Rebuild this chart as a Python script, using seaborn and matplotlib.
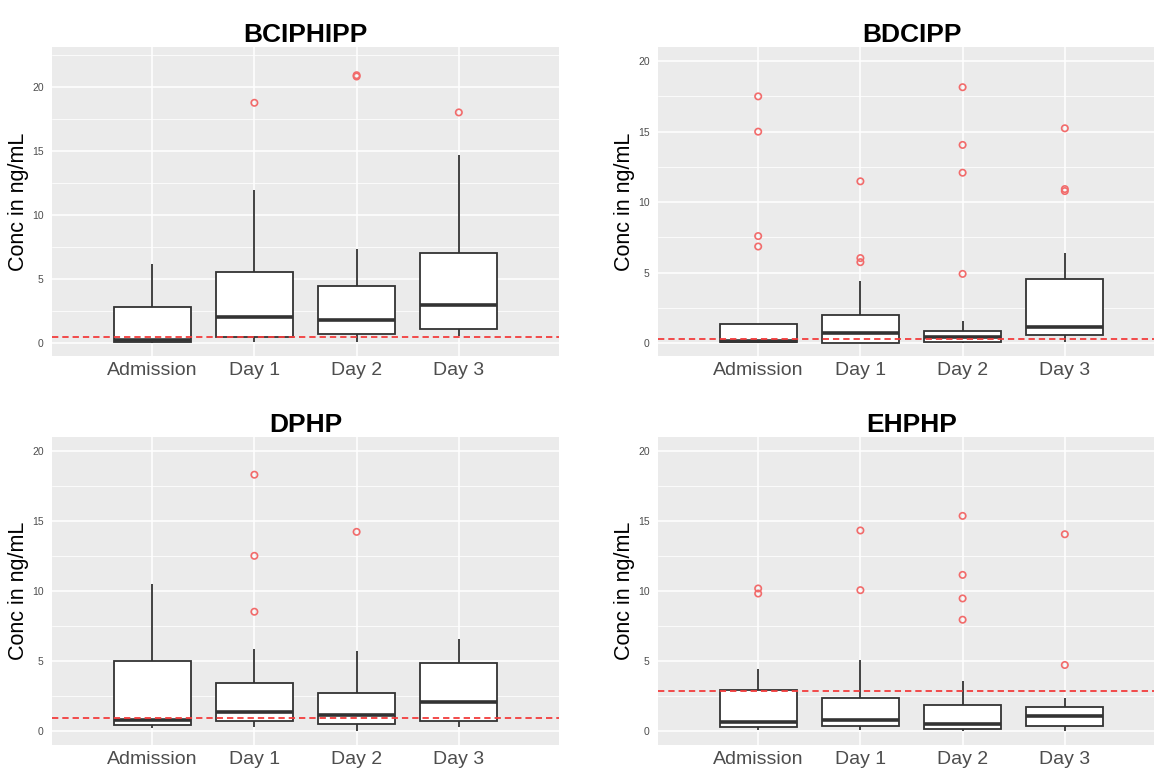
import numpy as np
import pandas as pd
import matplotlib.pyplot as plt
import seaborn as sns
from matplotlib.ticker import MultipleLocator

days = ['Admission', 'Day 1', 'Day 2', 'Day 3']
compounds = ['BCIPHIPP', 'BDCIPP', 'DPHP', 'EHPHP']

# box summaries per day: lower whisker, Q1, median, Q3, upper whisker (ng/mL)
bciphipp_box = [[0.03, 0.08, 0.25, 2.80, 6.20],
                [0.10, 0.50, 2.06, 5.57, 11.95],
                [0.10, 0.75, 1.80, 4.45, 7.32],
                [0.55, 1.09, 3.00, 7.06, 14.70]]
bdcipp_box = [[0.02, 0.07, 0.17, 1.34, 1.40],
              [0.02, 0.05, 0.71, 1.98, 4.41],
              [0.02, 0.12, 0.47, 0.85, 1.58],
              [0.08, 0.57, 1.16, 4.58, 6.42]]
dphp_box = [[0.21, 0.45, 0.83, 5.00, 10.52],
            [0.28, 0.73, 1.37, 3.44, 5.88],
            [0.05, 0.50, 1.16, 2.70, 5.71],
            [0.28, 0.73, 2.09, 4.86, 6.59]]
ehphp_box = [[0.10, 0.31, 0.64, 2.91, 4.44],
             [0.10, 0.35, 0.80, 2.36, 5.08],
             [0.05, 0.19, 0.52, 1.84, 3.57],
             [0.05, 0.40, 1.09, 1.75, 2.36]]

# outliers per day
bciphipp_out = [[], [18.75], [20.8, 20.9], [18.0]]
bdcipp_out = [[17.5, 15.0, 7.6, 6.86], [11.48, 6.04, 5.75],
              [18.15, 14.06, 12.09, 4.92], [15.24, 10.93, 10.79]]
dphp_out = [[], [18.31, 12.52, 8.53], [14.23], []]
ehphp_out = [[10.19, 9.83], [14.33, 10.07],
             [15.37, 11.16, 9.48, 7.96], [14.06, 4.73]]

# dashed reference level per compound
lod = [0.52, 0.33, 0.92, 2.86]

boxes = [bciphipp_box, bdcipp_box, dphp_box, ehphp_box]
outs = [bciphipp_out, bdcipp_out, dphp_out, ehphp_out]

sns.set_theme(style='darkgrid')
plt.rcParams['font.family'] = ['Liberation Sans', 'DejaVu Sans']

red = '#F26B6B'
W, H = 1154, 770
# panel rectangles in pixels: left, top, right, bottom
rects = [(52, 47, 559, 356), (658, 47, 1165, 356),
         (52, 437, 559, 745), (658, 437, 1165, 745)]
ylims = [(-0.99, 23.1), (-0.9, 21.0), (-0.98, 21.0), (-0.98, 21.0)]

fig = plt.figure(figsize=(W / 100, H / 100), dpi=100)

for i, name in enumerate(compounds):
    l, t, r, b = rects[i]
    ax = fig.add_axes([l / W, 1 - b / H, (r - l) / W, (b - t) / H])

    box_df = pd.DataFrame({'day': np.repeat(days, 5),
                           'conc': np.concatenate(boxes[i])})
    sns.boxplot(data=box_df, x='day', y='conc', order=days, ax=ax,
                whis=(0, 100), width=0.75, color='white', saturation=1,
                linecolor='#333333', linewidth=1.3, showcaps=False,
                showfliers=False, medianprops={'linewidth': 2.6})

    out_df = pd.DataFrame({
        'day': [d for d, vals in zip(days, outs[i]) for _ in vals],
        'conc': [v for vals in outs[i] for v in vals]})
    sns.stripplot(data=out_df, x='day', y='conc', order=days, ax=ax,
                  jitter=False, color=red, edgecolor=red, size=4.6,
                  linewidth=1.2, zorder=4)
    for coll in ax.collections:
        coll.set_facecolor('none')

    ax.axhline(lod[i], color='#F23C3C', linestyle=(0, (3.5, 2.2)),
               linewidth=1.3, zorder=5)

    ax.set_xlim(-0.98, 3.98)
    ax.set_ylim(*ylims[i])
    ax.set_yticks([0, 5, 10, 15, 20])
    ax.yaxis.set_minor_locator(MultipleLocator(2.5))
    ax.set_facecolor('#EBEBEB')
    ax.set_axisbelow(True)
    ax.grid(which='major', color='white', linewidth=1.1)
    ax.grid(which='minor', axis='y', color='white', linewidth=0.55)
    ax.grid(which='minor', axis='x', visible=False)
    for s in ax.spines.values():
        s.set_visible(False)
    ax.tick_params(which='major', length=3, width=1, color='#333333',
                   labelcolor='#4D4D4D')
    ax.tick_params(which='minor', length=0)
    ax.tick_params(axis='x', labelsize=14, pad=1)
    ax.tick_params(axis='y', labelsize=7.5, pad=3)
    ax.set_xlabel('')
    ax.set_ylabel('Conc in ng/mL', fontsize=15.5, color='black', labelpad=2)
    ax.set_title(name, fontsize=19, fontweight='bold', color='black', pad=3.5)

fig.savefig('out.png', dpi=100)
